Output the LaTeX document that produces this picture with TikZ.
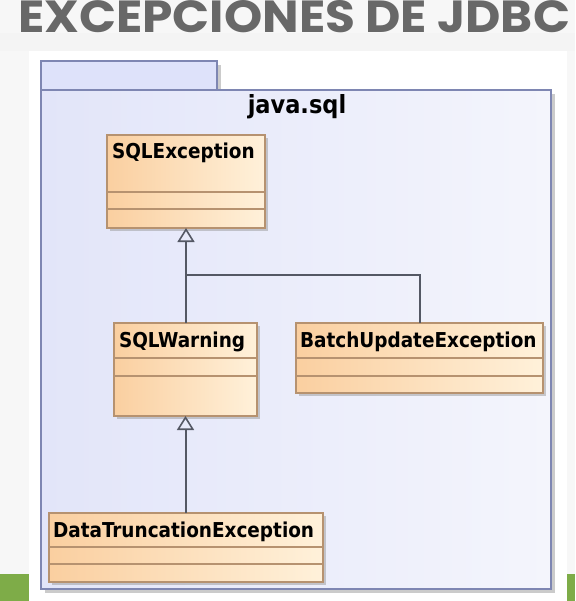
\documentclass[tikz,border=0pt]{standalone}
\usepackage{fontspec}
\setmainfont{DejaVu Sans}
\newfontfamily\titlefont{Poppins}
\newfontfamily\umlfont{DejaVu Sans Condensed}
\usetikzlibrary{arrows.meta, shadows}

\definecolor{bggreen}{RGB}{126,172,72}
\definecolor{titlegray}{RGB}{104,104,104}
\definecolor{pkgline}{RGB}{126,134,178}
\definecolor{pkgtab}{RGB}{222,226,250}
\definecolor{pkgL}{RGB}{226,229,249}
\definecolor{pkgR}{RGB}{244,245,252}
\definecolor{clsline}{RGB}{182,146,112}
\definecolor{clsL}{RGB}{250,207,160}
\definecolor{clsR}{RGB}{255,241,218}
\definecolor{linkc}{RGB}{84,88,100}

\begin{document}
\begin{tikzpicture}[x=1pt, y=-1pt,
    every node/.style={inner sep=0pt, outer sep=0pt},
    pkgbox/.style={draw=pkgline, line width=1.6pt, anchor=north west,
      drop shadow={shadow xshift=4pt, shadow yshift=-4pt, fill=black!40, opacity=0.5}},
    clsbox/.style={draw=clsline, line width=1.8pt, left color=clsL, right color=clsR,
      anchor=north west,
      drop shadow={shadow xshift=3pt, shadow yshift=-3pt, fill=black!40, opacity=0.5}},
    clsname/.style={anchor=base west, font=\umlfont\bfseries\fontsize{20.5}{24}\selectfont},
    sepline/.style={draw=clsline, line width=1.5pt},
    link/.style={draw=linkc, line width=2pt},
    gen/.style={link, -{Triangle[open, length=14pt, width=17pt, line width=1.6pt]}}]

    % fondo
    \useasboundingbox (0,0) rectangle (575,601);
    \fill[gray!6] (0,0) rectangle (575,601);
    \fill[gray!9] (0,33) rectangle (575,51);
    \fill[white] (29,51) rectangle (567,601);
    \fill[bggreen] (0,574) rectangle (29,601);
    \fill[bggreen] (567,574) rectangle (575,601);

    % titulo
    \node[anchor=north west, text=titlegray] (title) at (18,0)
      {\resizebox{552pt}{32pt}{\titlefont\bfseries EXCEPCIONES DE JDBC}};

    % paquete java.sql
    \node[pkgbox, fill=pkgtab, minimum width=176pt, minimum height=29pt] (tab) at (41,61) {};
    \node[pkgbox, left color=pkgL, right color=pkgR, minimum width=510pt, minimum height=499pt] (pkg) at (41,90) {};
    \node[anchor=base, font=\umlfont\bfseries\fontsize{25}{28}\selectfont] (pkgname) at (297,114) {java.sql};

    % clases
    \node[clsbox, minimum width=158pt, minimum height=93pt] (sqlex) at (107,135) {};
    \node[clsbox, minimum width=143pt, minimum height=93pt] (sqlwarn) at (114,323) {};
    \node[clsbox, minimum width=247pt, minimum height=70pt] (batch) at (296,323) {};
    \node[clsbox, minimum width=274pt, minimum height=69pt] (dtrunc) at (49,513) {};

    \node[clsname] (sqlexname) at ([xshift=5pt, yshift=-24pt]sqlex.north west) {SQLException};
    \node[clsname] (sqlwarnname) at ([xshift=5pt, yshift=-24pt]sqlwarn.north west) {SQLWarning};
    \node[clsname] (batchname) at ([xshift=4pt, yshift=-24pt]batch.north west) {BatchUpdateException};
    \node[clsname] (dtruncname) at ([xshift=4pt, yshift=-24pt]dtrunc.north west) {DataTruncationException};

    % compartimentos
    \foreach \c/\a/\b in {sqlex/57/74, sqlwarn/35/53, batch/35/53, dtrunc/34/51} {
      \draw[sepline] ([yshift=-\a pt]\c.north west) -- ([yshift=-\a pt]\c.north east);
      \draw[sepline] ([yshift=-\b pt]\c.north west) -- ([yshift=-\b pt]\c.north east);
    }

    % herencia
    \coordinate (jn) at (186,275);
    \draw[gen] (sqlwarn.north -| sqlex.south) -- (sqlex.south);
    \draw[link] (batch.north) |- (jn);
    \draw[gen] (dtrunc.north -| sqlwarn.south) -- (sqlwarn.south);

  \end{tikzpicture}
\end{document}
